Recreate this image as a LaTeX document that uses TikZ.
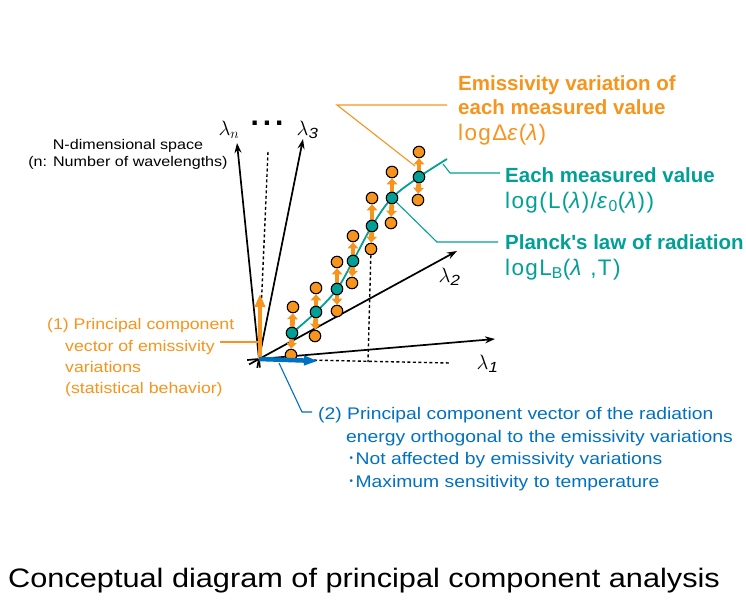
\documentclass[tikz,border=0pt]{standalone}
\usepackage{fontspec}
\setmainfont{Liberation Sans}[FakeStretch=1.15]
\newfontfamily\labfont{Liberation Sans}
\newfontfamily\formfont{Liberation Sans}[LetterSpace=6]
\newfontfamily\cjk{Noto Sans CJK JP}
\usepackage{xcolor}
\usepackage{tikz}
\usetikzlibrary{arrows.meta,calc}
\definecolor{emisorange}{HTML}{F7941D}
\definecolor{planckteal}{HTML}{00A096}
\definecolor{pcblue}{HTML}{0070C0}
\pgfdeclarelayer{back}
\pgfsetlayers{back,main}
\tikzset{
	lamaxis/.style = {draw, line width=1.7pt, -{Stealth[length=10pt,width=7pt]}},
	proj/.style = {draw, line width=1.4pt, dash pattern=on 3pt off 2.5pt},
	mpoint/.style = {circle, draw, line width=1.1pt, minimum size=11.5pt, inner sep=0pt},
	meas/.style = {mpoint, fill=emisorange},
	planck/.style = {mpoint, fill=planckteal},
	emis/.style = {draw=emisorange, line width=4.8pt, -{Triangle[length=6pt,width=10.5pt]}},
	lead/.style = {draw, line width=1.1pt},
	lam/.style = {font=\fontsize{21}{24}\selectfont, inner sep=0pt},
	ntext/.style = {anchor=base, inner sep=0pt, font=\fontsize{14}{17}\selectfont},
	otext/.style = {anchor=base west, inner sep=0pt, text=emisorange, font=\fontsize{15.4}{18}\selectfont},
	btext/.style = {anchor=base west, inner sep=0pt, text=pcblue, font=\fontsize{16.8}{20}\selectfont},
	olabel/.style = {anchor=base west, inner sep=0pt, text=emisorange, font=\labfont\bfseries\fontsize{20.5}{24}\selectfont},
	tlabel/.style = {olabel, text=planckteal},
	oform/.style = {anchor=base west, inner sep=0pt, text=emisorange, font=\formfont\fontsize{22.5}{26}\selectfont},
	tform/.style = {oform, text=planckteal}
}

\begin{document}
\begin{tikzpicture}[x=1pt, y=-1pt]
	\useasboundingbox (0,0) rectangle (746,603);
	% origin and axis ends
	\coordinate (O) at (259,359);
	\coordinate (L1) at (495,339);
	\coordinate (L2) at (457,251);
	\coordinate (L3) at (303,139);
	\coordinate (Ln) at (237,143);
	\coordinate (g1) at (268,152);
	\coordinate (f1) at (450,363);
	\coordinate (f2) at (368,362);
	\coordinate (ce) at (447,159);
	\coordinate (k1) at (443,164);
	\coordinate (k2) at (415,166);
	\coordinate (pc1) at (260,294);
	\coordinate (pc2) at (318,361);
	% measured values
	\node[planck] (t1) at (292,333) {}; \node[meas] (u1) at (293,307) {}; \node[meas] (d1) at (291,355) {};
	\node[planck] (t2) at (316,312) {}; \node[meas] (u2) at (316,288) {}; \node[meas] (d2) at (315,336) {};
	\node[planck] (t3) at (337,289) {}; \node[meas] (u3) at (337,262) {}; \node[meas] (d3) at (337,311) {};
	\node[planck] (t4) at (353,261) {}; \node[meas] (u4) at (353,236) {}; \node[meas] (d4) at (352,283) {};
	\node[planck] (t5) at (372,226) {}; \node[meas] (u5) at (372,198) {}; \node[meas] (d5) at (371,249) {};
	\node[planck] (t6) at (392,198) {}; \node[meas] (u6) at (392,172) {}; \node[meas] (d6) at (391,223) {};
	\node[planck] (t7) at (419,177) {}; \node[meas] (u7) at (419,152) {}; \node[meas] (d7) at (418,200) {};

	\begin{pgfonlayer}{back}
		\draw[lamaxis] ($(O)!-0.05!(L1)$) -- (L1);
		\draw[lamaxis] ($(O)!-0.05!(L2)$) -- (L2);
		\draw[lamaxis] ($(O)!-0.04!(L3)$) -- (L3);
		\draw[lamaxis] ($(O)!-0.04!(Ln)$) -- (Ln);
		\draw[proj] (g1) -- (O);
		\draw[proj] (O) -- (f1);
		\draw[proj] (d5) -- (f2);
		\draw[planckteal, line width=1.8pt] plot[smooth, tension=0.6] coordinates {(t1.center) (t2.center) (t3.center) (t4.center) (t5.center) (t6.center) (t7.center) (ce)};
		\draw[emis] (t1) -- (u1); \draw[emis] (t1) -- (d1);
		\draw[emis] (t2) -- (u2); \draw[emis] (t2) -- (d2);
		\draw[emis] (t3) -- (u3); \draw[emis] (t3) -- (d3);
		\draw[emis] (t4) -- (u4); \draw[emis] (t4) -- (d4);
		\draw[emis] (t5) -- (u5); \draw[emis] (t5) -- (d5);
		\draw[emis] (t6) -- (u6); \draw[emis] (t6) -- (d6);
		\draw[emis] (t7) -- (u7); \draw[emis] (t7) -- (d7);
		% leaders
		\draw[lead, emisorange] (k2) -- (337,105) -- (447,105);
		\draw[lead, planckteal] (k1) -- (450,173) -- (500,173);
		\draw[lead, planckteal] (t6) -- (437,242) -- (498,242);
		\draw[lead, emisorange] (220,342) -- (258,342);
		\draw[lead, pcblue] (279,363) -- (302,412) -- (312,412);
	\end{pgfonlayer}

	% principal component vectors
	\draw[draw=emisorange, line width=4.5pt, -{Triangle[length=13pt,width=10pt]}] ($(O)+(1,0)$) -- (pc1);
	\draw[draw=pcblue, line width=4.5pt, -{Triangle[length=14pt,width=9pt]}] (O) -- (pc2);

	% axis labels
	\node[lam] (l1) at (487,364) {$\lambda_{\mathit{1}}$};
	\node[lam] (l2) at (449,277) {$\lambda_{\mathit{2}}$};
	\node[lam] (l3) at (307,130) {$\lambda_{\mathit{3}}$};
	\node[lam] (ln) at (229,130) {$\lambda_n$};
	\node[inner sep=0pt, font=\labfont\bfseries\fontsize{30}{30}\selectfont] (dots) at (267,123) {.\hspace{4pt}.\hspace{4pt}.};

	\node[ntext] (n1) at (128,149) {N-dimensional space};
	\node[ntext] (n2) at (128,166) {(n: Number of wavelengths)};

	\node[olabel] (e1) at (458,90) {Emissivity variation of};
	\node[olabel] (e2) at (458,114) {each measured value};
	\node[oform] (e3) at (458,140) {logΔ\textit{ε}(\textit{λ})};
	\node[tlabel] (m1) at (505,182) {Each measured value};
	\node[tform] (m2) at (505,208) {log(L(\textit{λ})/\textit{ε}\textsubscript{0}(\textit{λ}))};
	\node[tlabel] (b1) at (505,249) {Planck's law of radiation};
	\node[tform] (b2) at (505,275) {logL\textsubscript{B}(\textit{λ} ,T)};

	\node[otext] (p1a) at (47,329) {(1) Principal component};
	\node[otext] (p1b) at (65,351) {vector of emissivity};
	\node[otext] (p1c) at (65,372) {variations};
	\node[otext] (p1d) at (65,393) {(statistical behavior)};

	\node[btext] (p2a) at (318,419) {(2) Principal component vector of the radiation};
	\node[btext] (p2b) at (346,442) {energy orthogonal to the emissivity variations};
	\node[btext] (p2c) at (347,464) {{\cjk ･}Not affected by emissivity variations};
	\node[btext] (p2d) at (347,487) {{\cjk ･}Maximum sensitivity to temperature};

	\node[anchor=base west, inner sep=0pt, font=\fontsize{26.7}{30}\selectfont] (title) at (8,587) {Conceptual diagram of principal component analysis};
\end{tikzpicture}
\end{document}
